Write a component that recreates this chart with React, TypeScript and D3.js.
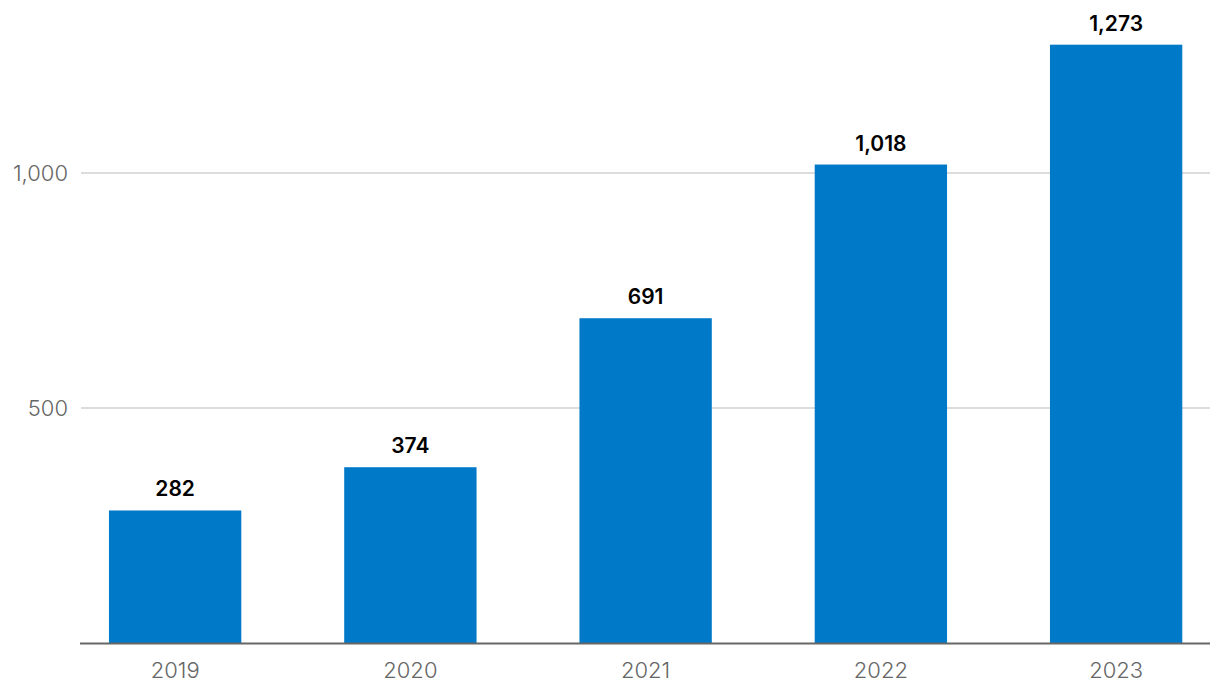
import React from "react";
import * as d3 from "d3";

const years = ["2019", "2020", "2021", "2022", "2023"];
const values = [282, 374, 691, 1018, 1273];
const yTicks = [500, 1000];

const W = 1220;
const H = 696;

export default function App() {
  const x = d3.scaleBand<string>().domain(years).range([57.5, 1233.75]).paddingInner(0.4375).paddingOuter(0.21875);
  const y = d3.scaleLinear().domain([0, 1000]).range([643, 173]);
  const fmt = d3.format(",");
  const font = "Inter, 'Noto Sans', sans-serif";
  return (
    <svg width={W} height={H} style={{ position: "absolute", left: 0, top: 0, background: "#fff" }}>
      {yTicks.map((t) => (
        <g key={t}>
          <line x1={81} x2={1210} y1={y(t)} y2={y(t)} stroke="#d0d0d0" strokeWidth={1.5} />
          <text x={68} y={y(t)} dy="0.36em" textAnchor="end" fontFamily={font} fontSize={22} fontWeight={300} fill="#666">
            {fmt(t)}
          </text>
        </g>
      ))}
      {years.map((yr, i) => (
        <g key={yr}>
          <rect x={x(yr)} y={y(values[i])} width={x.bandwidth()} height={y(0) - y(values[i])} fill="#0079C8" />
          <text x={x(yr)! + x.bandwidth() / 2} y={y(values[i]) - 14} textAnchor="middle" fontFamily={font} fontSize={21} fontWeight={600} fill="#000">
            {fmt(values[i])}
          </text>
          <text x={x(yr)! + x.bandwidth() / 2} y={678} textAnchor="middle" fontFamily={font} fontSize={22} fontWeight={300} fill="#666">
            {yr}
          </text>
        </g>
      ))}
      <line x1={80} x2={1210} y1={643.5} y2={643.5} stroke="#666" strokeWidth={2} />
    </svg>
  );
}
